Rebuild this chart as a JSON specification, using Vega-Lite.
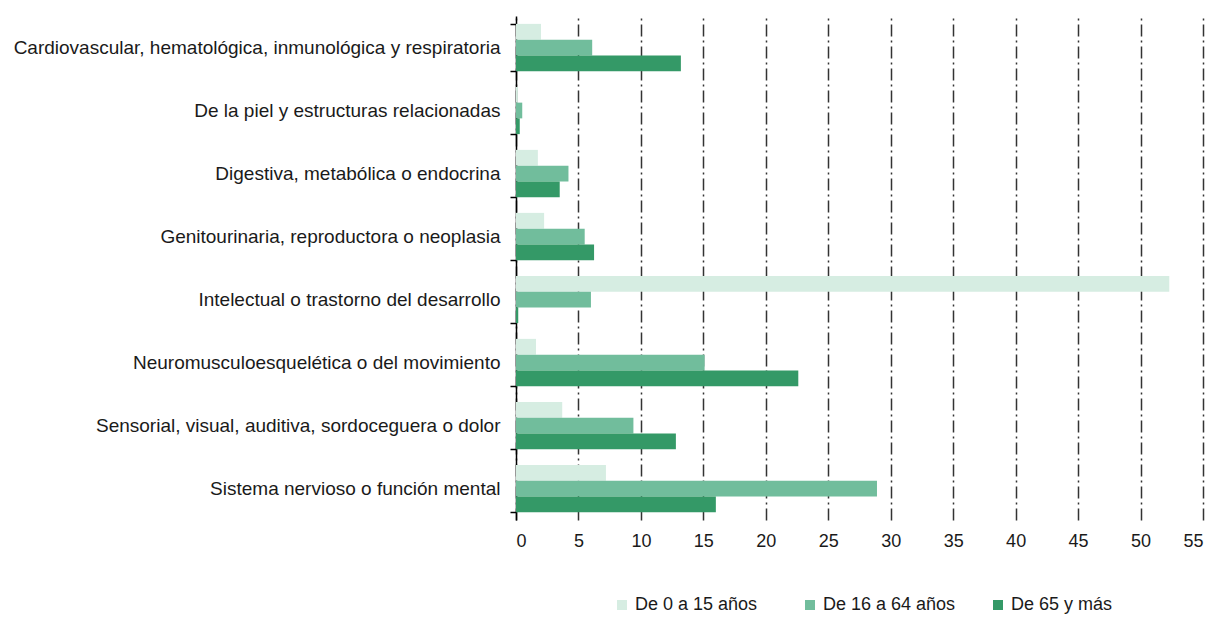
{
  "$schema": "https://vega.github.io/schema/vega-lite/v6.json",
  "autosize": {"type": "none"},
  "padding": {"left": 516, "top": 16, "right": 20, "bottom": 97},
  "width": 687,
  "height": 504,
  "background": "white",
  "config": {
    "font": "Liberation Sans",
    "view": {"stroke": null}
  },
  "data": {
    "values": [
      {"cat": "Cardiovascular, hematológica, inmunológica y respiratoria", "grupo": "De 0 a 15 años", "v": 2.0},
      {"cat": "Cardiovascular, hematológica, inmunológica y respiratoria", "grupo": "De 16 a 64 años", "v": 6.1},
      {"cat": "Cardiovascular, hematológica, inmunológica y respiratoria", "grupo": "De 65 y más", "v": 13.2},
      {"cat": "De la piel y estructuras relacionadas", "grupo": "De 0 a 15 años", "v": 0.15},
      {"cat": "De la piel y estructuras relacionadas", "grupo": "De 16 a 64 años", "v": 0.5},
      {"cat": "De la piel y estructuras relacionadas", "grupo": "De 65 y más", "v": 0.3},
      {"cat": "Digestiva, metabólica o endocrina", "grupo": "De 0 a 15 años", "v": 1.75},
      {"cat": "Digestiva, metabólica o endocrina", "grupo": "De 16 a 64 años", "v": 4.2},
      {"cat": "Digestiva, metabólica o endocrina", "grupo": "De 65 y más", "v": 3.5},
      {"cat": "Genitourinaria, reproductora o neoplasia", "grupo": "De 0 a 15 años", "v": 2.25},
      {"cat": "Genitourinaria, reproductora o neoplasia", "grupo": "De 16 a 64 años", "v": 5.5},
      {"cat": "Genitourinaria, reproductora o neoplasia", "grupo": "De 65 y más", "v": 6.25},
      {"cat": "Intelectual o trastorno del desarrollo", "grupo": "De 0 a 15 años", "v": 52.3},
      {"cat": "Intelectual o trastorno del desarrollo", "grupo": "De 16 a 64 años", "v": 6.0},
      {"cat": "Intelectual o trastorno del desarrollo", "grupo": "De 65 y más", "v": 0.18},
      {"cat": "Neuromusculoesquelética o del movimiento", "grupo": "De 0 a 15 años", "v": 1.6},
      {"cat": "Neuromusculoesquelética o del movimiento", "grupo": "De 16 a 64 años", "v": 15.1},
      {"cat": "Neuromusculoesquelética o del movimiento", "grupo": "De 65 y más", "v": 22.6},
      {"cat": "Sensorial, visual, auditiva, sordoceguera o dolor", "grupo": "De 0 a 15 años", "v": 3.7},
      {"cat": "Sensorial, visual, auditiva, sordoceguera o dolor", "grupo": "De 16 a 64 años", "v": 9.4},
      {"cat": "Sensorial, visual, auditiva, sordoceguera o dolor", "grupo": "De 65 y más", "v": 12.8},
      {"cat": "Sistema nervioso o función mental", "grupo": "De 0 a 15 años", "v": 7.2},
      {"cat": "Sistema nervioso o función mental", "grupo": "De 16 a 64 años", "v": 28.9},
      {"cat": "Sistema nervioso o función mental", "grupo": "De 65 y más", "v": 16.0}
    ]
  },
  "mark": {"type": "bar"},
  "encoding": {
    "y": {
      "field": "cat",
      "type": "nominal",
      "sort": null,
      "title": null,
      "scale": {"paddingInner": 0.25, "paddingOuter": 0.125},
      "axis": {
        "domainColor": "#000000",
        "domainWidth": 1.5,
        "tickColor": "#000000",
        "tickWidth": 1.5,
        "tickSize": 6,
        "tickBand": "extent",
        "labelFontSize": 19,
        "labelColor": "#1a1a1a",
        "labelPadding": 10,
        "labelLimit": 520,
        "grid": false
      }
    },
    "yOffset": {
      "field": "grupo",
      "type": "nominal",
      "scale": {"domain": ["De 0 a 15 años", "De 16 a 64 años", "De 65 y más"], "paddingInner": 0, "paddingOuter": 0}
    },
    "x": {
      "field": "v",
      "type": "quantitative",
      "title": null,
      "scale": {"domain": [0, 55], "nice": false},
      "axis": {
        "values": [0, 5, 10, 15, 20, 25, 30, 35, 40, 45, 50, 55],
        "domain": false,
        "ticks": false,
        "labelFontSize": 18,
        "labelColor": "#1a1a1a",
        "labelPadding": 12,
        "grid": true,
        "gridColor": "#333333",
        "gridWidth": 1.5,
        "gridDash": [12, 4, 2, 4]
      }
    },
    "color": {
      "field": "grupo",
      "type": "nominal",
      "scale": {
        "domain": ["De 0 a 15 años", "De 16 a 64 años", "De 65 y más"],
        "range": ["#d6ede2", "#71bd9c", "#349967"]
      },
      "legend": {
        "title": null,
        "orient": "none",
        "legendX": 97,
        "legendY": 580,
        "direction": "horizontal",
        "columns": 3,
        "gridAlign": "all",
        "columnPadding": 33,
        "symbolType": "square",
        "symbolSize": 100,
        "symbolStrokeWidth": 0,
        "labelFontSize": 18,
        "labelColor": "#1a1a1a",
        "labelOffset": 4,
        "labelLimit": 300
      }
    }
  }
}
